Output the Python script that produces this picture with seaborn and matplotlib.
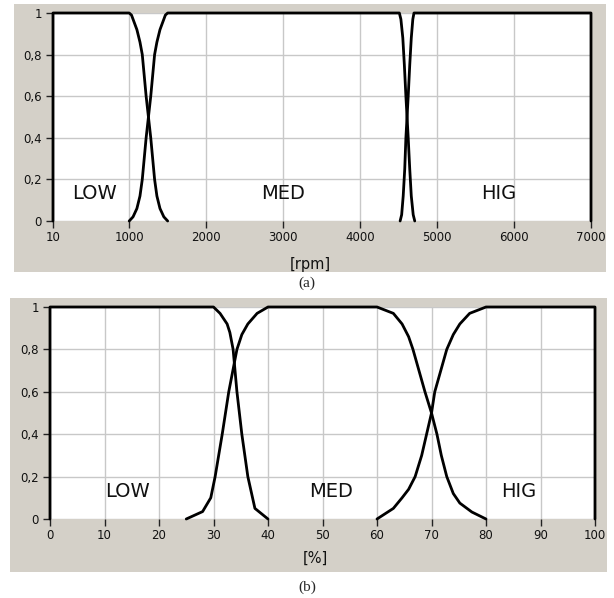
import matplotlib
matplotlib.use("Agg")
import matplotlib.pyplot as plt
import seaborn as sns
from matplotlib.patches import Rectangle

sns.set_style("white")
plt.rcParams['font.family'] = ['DejaVu Sans']

# ---------------- data: panel (a) engine speed [rpm] ----------------
low_a_x = [10, 10, 1000, 1030, 1060, 1100, 1140, 1170, 1195, 1220, 1250, 1280, 1305,
           1330, 1360, 1400, 1450, 1500]
low_a_y = [0, 1, 1, 0.99, 0.96, 0.92, 0.86, 0.8, 0.7, 0.6, 0.5, 0.4, 0.3,
           0.2, 0.12, 0.06, 0.02, 0]
med_a_x = [1000, 1050, 1100, 1140, 1170, 1195, 1220, 1250, 1280, 1305, 1330, 1360,
           1400, 1440, 1470, 1500,
           4510, 4530, 4555, 4575, 4595, 4610, 4625, 4645, 4665, 4690, 4710]
med_a_y = [0, 0.02, 0.06, 0.12, 0.2, 0.3, 0.4, 0.5, 0.6, 0.7, 0.8, 0.86,
           0.92, 0.96, 0.99, 1,
           1, 0.97, 0.88, 0.75, 0.6, 0.5, 0.4, 0.25, 0.12, 0.03, 0]
hig_a_x = [4520, 4540, 4560, 4580, 4595, 4610, 4625, 4645, 4665, 4685, 4700, 7000, 7000]
hig_a_y = [0, 0.03, 0.12, 0.25, 0.4, 0.5, 0.6, 0.75, 0.88, 0.97, 1, 1, 0]
xticks_a = [10, 1000, 2000, 3000, 4000, 5000, 6000, 7000]

# ---------------- data: panel (b) [%] ----------------
low_b_x = [0, 0, 30, 31.2, 32.5, 33, 33.6, 34.3, 35.2, 36.3, 37.6, 40]
low_b_y = [0, 1, 1, 0.97, 0.92, 0.88, 0.8, 0.6, 0.4, 0.2, 0.05, 0]
med_b_x = [25, 28, 29.5, 30.3, 31.6, 32.8, 34.3, 35.2, 36.3, 38, 40,
           60, 63, 64.6, 65.8, 66.6, 67.7, 68.8, 70, 71, 71.8, 72.8, 74, 75.2, 77.4, 80]
med_b_y = [0, 0.035, 0.1, 0.2, 0.4, 0.6, 0.8, 0.87, 0.92, 0.97, 1,
           1, 0.97, 0.92, 0.86, 0.8, 0.7, 0.6, 0.5, 0.4, 0.3, 0.2, 0.12, 0.075, 0.033, 0]
hig_b_x = [60, 63, 64.6, 65.8, 67, 68.2, 69.1, 70, 70.6, 71.7, 72.8, 74, 75.2, 77, 80, 100, 100]
hig_b_y = [0, 0.05, 0.1, 0.14, 0.2, 0.3, 0.4, 0.5, 0.6, 0.7, 0.8, 0.87, 0.92, 0.97, 1, 1, 0]
xticks_b = [0, 10, 20, 30, 40, 50, 60, 70, 80, 90, 100]

yticks = [0, 0.2, 0.4, 0.6, 0.8, 1]
ytick_labels = ['0', '0,2', '0,4', '0,6', '0,8', '1']
set_labels = ['LOW', 'MED', 'HIG']
label_x_a = [555, 3000, 5800]
label_x_b = [14.3, 51.5, 86]
label_y = 0.13

W, H = 614, 598
fig = plt.figure(figsize=(W / 100, H / 100), dpi=100)
fig.patch.set_facecolor('white')

PANEL = '#d4d0c8'
GRID = '#c8c8c8'


def px_rect(x0, y0, x1, y1):
    return [x0 / W, 1 - y1 / H, (x1 - x0) / W, (y1 - y0) / H]


# gray panels
for (x0, y0, x1, y1) in [(14, 4, 606, 272), (10, 298, 607, 572)]:
    r = px_rect(x0, y0, x1, y1)
    fig.patches.append(Rectangle((r[0], r[1]), r[2], r[3], transform=fig.transFigure,
                                 facecolor=PANEL, edgecolor='none', zorder=-10))


def draw_panel(rect, series, xlim, xticks, lab_x, xlabel, xlabel_pos, caption, caption_y):
    ax = fig.add_axes(px_rect(*rect))
    ax.set_zorder(1)
    ax.set_facecolor('white')
    for xs, ys in series:
        sns.lineplot(x=xs, y=ys, ax=ax, sort=False, estimator=None, color='black',
                     linewidth=2.0, clip_on=False, zorder=5)
    ax.set_xlim(*xlim)
    ax.set_ylim(0, 1)
    ax.set_xticks(xticks)
    ax.set_xticklabels([str(t) for t in xticks])
    ax.set_yticks(yticks)
    ax.set_yticklabels(ytick_labels)
    ax.grid(True, color=GRID, linewidth=1.0)
    ax.set_axisbelow(True)
    for s in ax.spines.values():
        s.set_visible(False)
    ax.tick_params(axis='both', direction='out', length=5, width=1, color='#222222',
                   labelsize=8.5, labelcolor='#111111', pad=2)
    ax.tick_params(axis='y', pad=3)
    ax.tick_params(left=True, bottom=True)
    for name, xv in zip(set_labels, lab_x):
        ax.text(xv, label_y, name, ha='center', va='center', fontsize=14, color='#111111')
    fig.text(xlabel_pos[0] / W, 1 - xlabel_pos[1] / H, xlabel, ha='center', va='center',
             fontsize=10.5, color='#111111')
    fig.text(307 / W, 1 - caption_y / H, caption, ha='center', va='center', fontsize=11,
             family=['Liberation Serif', 'DejaVu Serif'])
    return ax


draw_panel((53, 13, 591, 221),
           [(low_a_x, low_a_y), (med_a_x, med_a_y), (hig_a_x, hig_a_y)],
           (10, 7000), xticks_a, label_x_a, '[rpm]', (310, 265), '(a)', 283)
draw_panel((50, 307, 595, 519),
           [(low_b_x, low_b_y), (med_b_x, med_b_y), (hig_b_x, hig_b_y)],
           (0, 100), xticks_b, label_x_b, '[%]', (315, 558), '(b)', 587)

fig.savefig('out.png', dpi=100, facecolor='white')
